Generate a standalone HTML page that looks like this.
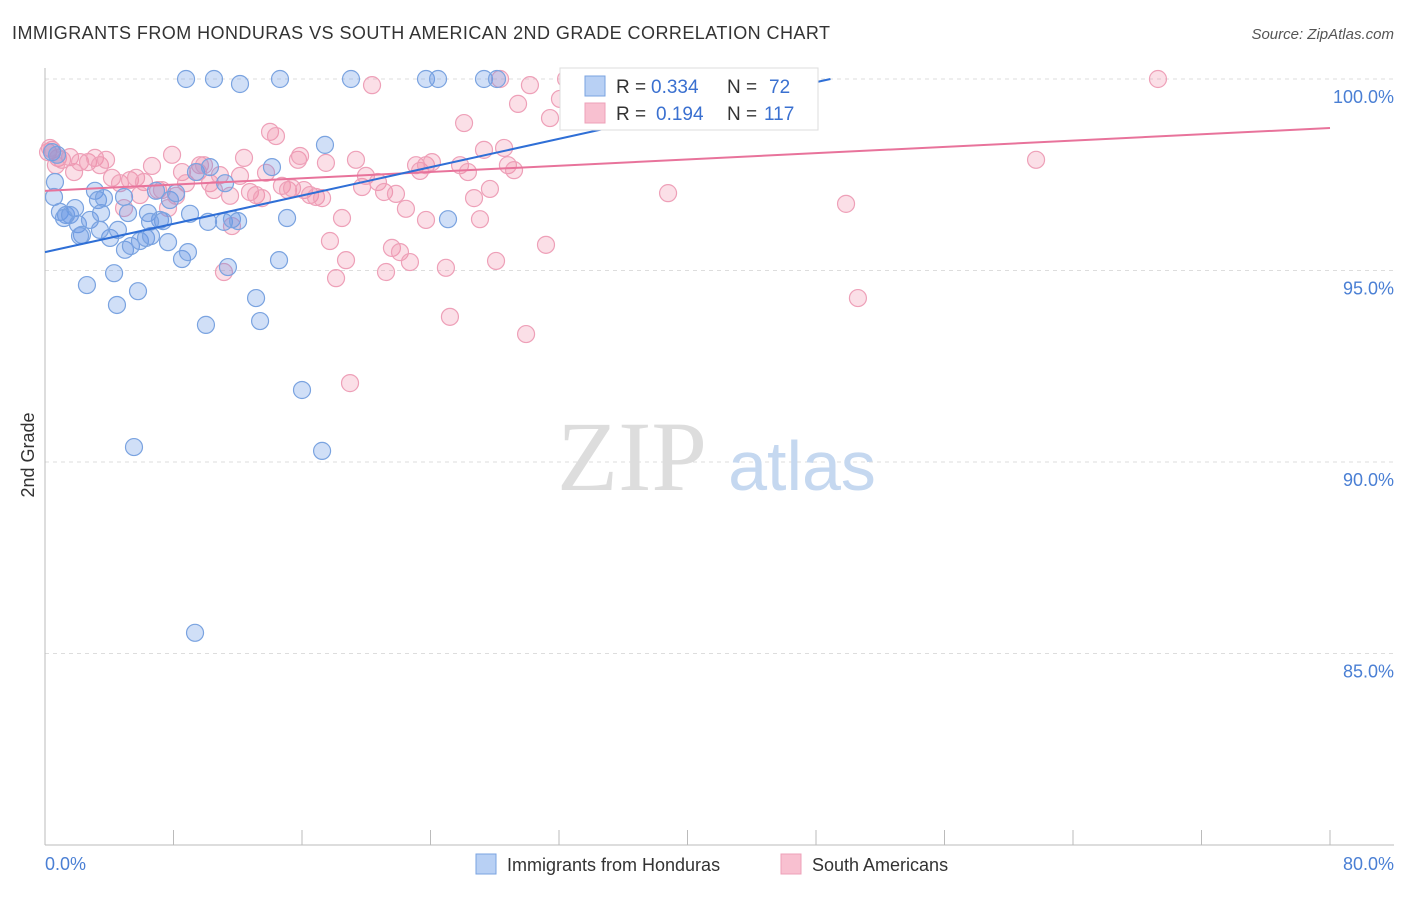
<!DOCTYPE html>
<html><head><meta charset="utf-8"><style>
body{margin:0;background:#fff;font-family:"Liberation Sans",sans-serif}
svg text{font-family:"Liberation Sans",sans-serif}
</style></head><body>
<svg width="1406" height="892">
<text x="12" y="39" font-size="18" fill="#333" textLength="818">IMMIGRANTS FROM HONDURAS VS SOUTH AMERICAN 2ND GRADE CORRELATION CHART</text>
<text x="1394" y="39" font-size="15" fill="#555" font-style="italic" text-anchor="end">Source: ZipAtlas.com</text>
<g id="grid"></g>
<text x="632" y="490" font-size="100" fill="#ddd" style="font-family:'Liberation Serif',serif" text-anchor="middle">ZIP</text>
<text x="802" y="490" font-size="70" fill="#c5d8f0" text-anchor="middle">atlas</text>
<g id="pts"></g>
<text x="34" y="455" font-size="18" fill="#333" transform="rotate(-90 34 455)" text-anchor="middle">2nd Grade</text>
<text x="45" y="870" font-size="18" fill="#4a7fd4">0.0%</text>
<text x="1394" y="870" font-size="18" fill="#4a7fd4" text-anchor="end">80.0%</text>
<g>
<rect x="560" y="68" width="258" height="62" fill="#fff" stroke="#ddd"/>
<rect x="585" y="76" width="20" height="20" fill="#b8d0f4" stroke="#7aa3e0"/>
<rect x="585" y="103" width="20" height="20" fill="#f8c0d0" stroke="#eea0b8"/>
<text x="616" y="93" font-size="19" fill="#333">R =</text><text x="651" y="93" font-size="19" fill="#3a70d0">0.334</text>
<text x="727" y="93" font-size="19" fill="#333">N =</text><text x="769" y="93" font-size="19" fill="#3a70d0">72</text>
<text x="616" y="120" font-size="19" fill="#333">R =</text><text x="656" y="120" font-size="19" fill="#3a70d0">0.194</text>
<text x="727" y="120" font-size="19" fill="#333">N =</text><text x="764" y="120" font-size="19" fill="#3a70d0">117</text>
</g>
<g>
<rect x="476" y="854" width="20" height="20" fill="#b8d0f4" stroke="#7aa3e0"/>
<text x="507" y="871" font-size="18" fill="#333">Immigrants from Honduras</text>
<rect x="781" y="854" width="20" height="20" fill="#f8c0d0" stroke="#eea0b8"/>
<text x="812" y="871" font-size="18" fill="#333">South Americans</text>
</g>
</svg>
<script>
const yTicks=[100,95,90,85];
const xTicks=[0,8,16,24,32,40,48,56,64,72,80];
const bluePx=[[186,79],[214,79],[240,84],[280,79],[351,79],[426,79],[438,79],[484,79],[497,79],[714,79],[52,152],[55,182],[54,197],[60,212],[66,215],[75,208],[70,215],[78,224],[82,235],[90,220],[95,191],[98,200],[101,213],[104,198],[110,238],[114,273],[117,305],[124,197],[125,250],[128,213],[131,246],[140,241],[138,291],[146,238],[148,213],[151,236],[156,191],[160,220],[163,221],[168,242],[170,200],[176,193],[182,259],[188,252],[190,214],[196,172],[208,222],[206,325],[210,167],[224,222],[225,183],[228,267],[232,219],[238,221],[256,298],[260,321],[272,167],[279,260],[287,218],[302,390],[322,451],[325,145],[448,219],[134,447],[195,633],[87,285],[57,155],[64,218],[100,230],[118,230],[80,236],[150,222]];
const pinkPx=[[48,152],[52,150],[58,158],[62,160],[70,157],[74,172],[80,162],[88,162],[95,158],[100,165],[106,160],[112,178],[120,183],[124,208],[130,180],[136,178],[144,182],[152,166],[158,190],[162,190],[172,155],[168,208],[176,196],[182,172],[186,183],[200,165],[198,172],[204,165],[210,183],[214,190],[220,175],[224,272],[230,196],[232,226],[240,176],[244,158],[250,192],[256,195],[262,198],[266,173],[270,132],[276,136],[282,186],[288,190],[292,188],[298,160],[300,156],[304,190],[310,195],[316,197],[322,198],[326,163],[330,241],[336,278],[342,218],[346,260],[350,383],[356,160],[362,187],[366,176],[372,85],[378,182],[384,192],[386,272],[392,248],[396,194],[400,252],[406,209],[410,262],[416,165],[420,171],[426,165],[432,162],[426,220],[446,268],[450,317],[460,165],[464,123],[468,172],[474,198],[480,219],[484,150],[490,189],[496,261],[500,79],[504,148],[508,165],[514,170],[518,104],[526,334],[530,85],[546,245],[550,118],[560,99],[566,79],[586,86],[600,79],[630,96],[668,193],[846,204],[858,298],[1036,160],[1158,79],[50,148],[56,165],[140,195]];
const blueX=bluePx.map(p=>+((p[0]-45)/1285*80).toFixed(2)), blueY=bluePx.map(p=>+(100-(p[1]-79)/38.3).toFixed(2));
const pinkX=pinkPx.map(p=>+((p[0]-45)/1285*80).toFixed(2)), pinkY=pinkPx.map(p=>+(100-(p[1]-79)/38.3).toFixed(2));
const blueLine=[[0,95.48],[48.9,100]], pinkLine=[[0,97.08],[80,98.72]];
const X=v=>45+v/80*1285, Y=v=>79+(100-v)*38.3;
const NS='http://www.w3.org/2000/svg';
const g=document.getElementById('grid'), P=document.getElementById('pts');
function mk(tag,at,par){const e=document.createElementNS(NS,tag);for(const k in at)e.setAttribute(k,at[k]);par.appendChild(e);return e;}
yTicks.forEach(t=>{
 const l=mk('line',{x1:45,x2:1394,y1:Y(t),y2:Y(t),stroke:'#ddd','stroke-dasharray':'4 4'},g);
 
 
 const tx=mk('text',{x:1394,y:Y(t)+24,'font-size':18,fill:'#4a7fd4','text-anchor':'end'},g);
 tx.textContent=t.toFixed(1)+'%';
 
 
});
const ax=mk('line',{x1:45,x2:45,y1:68,y2:845,stroke:'#bbb'},g);


const bx=mk('line',{x1:45,x2:1394,y1:845,y2:845,stroke:'#bbb'},g);


xTicks.forEach(t=>{
 const l=mk('line',{x1:X(t),x2:X(t),y1:830,y2:845,stroke:'#bbb'},g);
 
 
});
pinkX.forEach((x,i)=>{
 const c=mk('circle',{cx:X(x),cy:Y(pinkY[i]),r:8.5,fill:'rgba(240,140,170,0.28)',stroke:'#eea0b8','stroke-width':1.2},P);
 
 
});
blueX.forEach((x,i)=>{
 const c=mk('circle',{cx:X(x),cy:Y(blueY[i]),r:8.5,fill:'rgba(100,150,230,0.3)',stroke:'#7aa3e0','stroke-width':1.2},P);
 
 
});
const pl=mk('line',{x1:X(pinkLine[0][0]),y1:Y(pinkLine[0][1]),x2:X(pinkLine[1][0]),y2:Y(pinkLine[1][1]),stroke:'#e8739b','stroke-width':2},P);


const bl=mk('line',{x1:X(blueLine[0][0]),y1:Y(blueLine[0][1]),x2:X(blueLine[1][0]),y2:Y(blueLine[1][1]),stroke:'#2f6fd6','stroke-width':2},P);


</script>
</body></html>
